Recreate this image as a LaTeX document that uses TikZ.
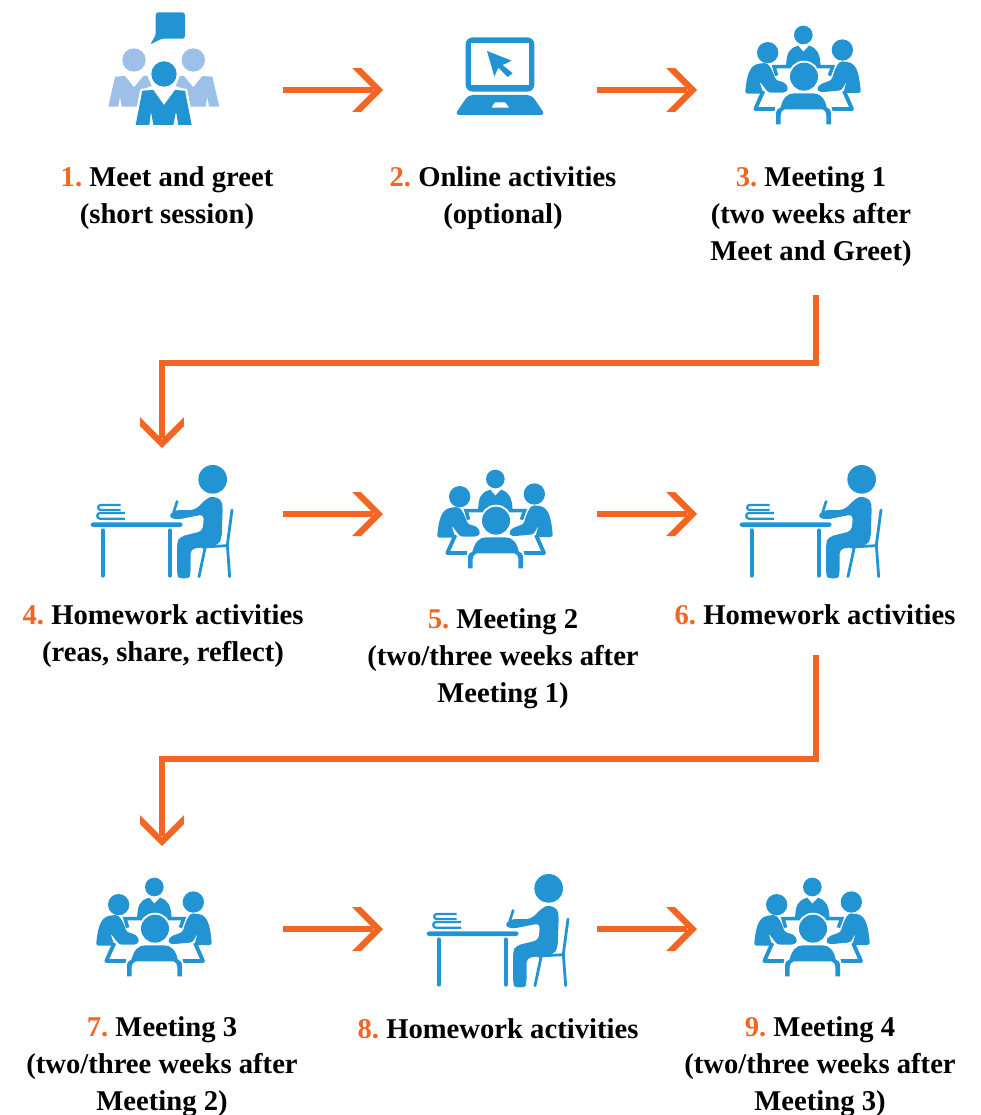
\documentclass[tikz,border=0pt]{standalone}
\usepackage{fontspec}
\setmainfont{Liberation Serif}
\definecolor{iconblue}{HTML}{2394D3}
\definecolor{iconlight}{HTML}{9DC0E8}
\definecolor{floworange}{HTML}{F26522}
\pgfdeclarearrow{
  name=Chevron,
  setup code={\pgfarrowssettipend{0pt}\pgfarrowssetlineend{-0.2cm}\pgfarrowssetbackend{-0.62cm}\pgfarrowssetvisualbackend{-0.18cm}},
  drawing code={
    \pgfpathmoveto{\pgfpoint{0cm}{0cm}}
    \pgfpathlineto{\pgfpoint{-0.44cm}{0.44cm}}
    \pgfpathlineto{\pgfpoint{-0.62cm}{0.44cm}}
    \pgfpathlineto{\pgfpoint{-0.18cm}{0cm}}
    \pgfpathlineto{\pgfpoint{-0.62cm}{-0.44cm}}
    \pgfpathlineto{\pgfpoint{-0.44cm}{-0.44cm}}
    \pgfpathclose
    \pgfsetfillcolor{floworange}
    \pgfusepathqfill
  }
}
\tikzset{
  flow/.style={draw=floworange,line width=0.12cm,-Chevron},
  iconslot/.style={minimum width=#1*0.02cm,minimum height=2.76cm,inner sep=0pt,outer sep=0pt},
  steplabel/.style={font=\fontsize{16.3pt}{21pt}\selectfont\bfseries\frenchspacing,align=center,anchor=north,inner sep=0pt},
  halo/.style={fill=iconblue,preaction={draw=white,line width=2.2pt}},
  greeticon/.pic={
    \begin{scope}[scale=1/3]
    \fill[iconblue,rounded corners=1.5pt] (197,37) -- (285,37) -- (285,116) -- (215,116) -- (180,134) -- (197,106) -- cycle;
    \fill[iconlight] (132,180) circle (35) (310,180) circle (35);
    \fill[iconlight] (75,230) -- (105,228) -- (132,262) -- (160,228) -- (172,228) -- (185,258) -- (150,270) -- (140,320) -- (95,320) -- (90,290) -- (85,320) -- (55,320) -- cycle;
    \fill[iconlight] (367,230) -- (337,228) -- (310,262) -- (282,228) -- (270,228) -- (257,258) -- (292,270) -- (302,320) -- (347,320) -- (352,290) -- (357,320) -- (388,320) -- cycle;
    \path[halo] (157,272) -- (190,270) -- (222,315) -- (255,270) -- (285,272) -- (305,375) -- (265,375) -- (258,335) -- (250,375) -- (190,375) -- (183,335) -- (178,375) -- (137,375) -- cycle;
    \path[halo] (222,222) circle (38);
    \end{scope}
  },
  laptopicon/.pic={
    \begin{scope}[scale=1/3]
    \fill[iconblue,rounded corners=4pt] (77,52) rectangle (283,215);
    \fill[white] (94,70) rectangle (266,196);
    \fill[iconblue] (141,93) -- (215,122) -- (188,135) -- (218,160) -- (203,171) -- (175,143) -- (163,170) -- cycle;
    \fill[iconblue,rounded corners=2.5pt] (85,225) -- (275,225) -- (316,285) -- (44,285) -- cycle;
    \fill[white] (165,247) -- (195,247) -- (207,263) -- (155,263) -- cycle;
    \end{scope}
  },
  meetingicon/.pic={
    \begin{scope}[scale=1/3]
    \fill[iconblue] (220,60) circle (28) (113,113) circle (32) (337,105) circle (32);
    \fill[iconblue] (168,155) .. controls (170,115) and (175,100) .. (205,92) -- (220,110) -- (237,92) .. controls (262,100) and (270,115) .. (272,155) -- cycle;
    \draw[iconblue,line width=2pt] (140,182) -- (132,155) -- (308,155) -- (298,182);
    \draw[iconblue,line width=2.2pt,line join=round] (100,228) -- (76,282) -- (135,282) (342,228) -- (366,282) -- (305,282);
    \fill[iconblue,rounded corners=1.5pt] (45,236) .. controls (50,190) and (55,150) .. (95,145) .. controls (115,143) and (125,160) .. (137,195) -- (165,203) -- (176,222) -- (165,233) -- (115,233) -- (88,198) -- (100,236) -- cycle;
    \fill[iconblue,rounded corners=1.5pt] (393,234) .. controls (388,190) and (385,145) .. (345,140) .. controls (325,138) and (315,160) .. (305,195) -- (270,208) -- (260,222) -- (270,232) -- (335,226) -- (350,198) -- (340,234) -- cycle;
    \path[halo] (222,185) circle (42);
    \path[fill=iconblue,preaction={draw=white,line width=2.2pt}] (138,328) -- (138,296) .. controls (138,285) and (145,280) .. (152,277) .. controls (158,250) and (172,235) .. (192,235) -- (250,235) .. controls (270,235) and (285,250) .. (290,277) .. controls (298,280) and (303,285) .. (303,296) -- (303,328) -- (289,328) -- (289,300) .. controls (289,292) and (285,285) .. (278,283) -- (164,283) .. controls (157,285) and (152,292) .. (152,300) -- (152,328) -- cycle;
    \end{scope}
  },
  deskicon/.pic={
    \begin{scope}[scale=1/3]
    \fill[iconblue] (398,73) circle (43);
    \fill[iconblue,rounded corners=1.5pt] (32,202) rectangle (308,216);
    \draw[iconblue,line width=2.2pt,line cap=round] (68,226) -- (68,362) (270,226) -- (270,362);
    \draw[iconblue,line width=1.3pt] (122,150) -- (62,150) .. controls (52,150) and (52,165) .. (62,165) -- (122,165);
    \draw[iconblue,line width=1.3pt] (135,174) -- (60,174) .. controls (49,174) and (49,191) .. (60,191) -- (135,191);
    \draw[iconblue,line width=1.5pt] (292,137) -- (281,172);
    \fill[iconblue,rounded corners=2.5pt] (378,132) .. controls (400,122) and (425,130) .. (428,160) -- (425,250) -- (415,270) -- (332,282) -- (332,352) .. controls (328,372) and (295,372) .. (291,352) -- (291,262) -- (300,245) -- (368,228) -- (372,178) -- (285,195) -- (264,183) -- (285,165) -- (345,165) -- cycle;
    \draw[iconblue,line width=1.6pt,line cap=round] (456,165) -- (442,270) -- (449,365) (375,280) -- (357,365) (365,276) -- (442,272);
    \end{scope}
  }
}
\begin{document}
\begin{tikzpicture}[x=0.02cm,y=-0.02cm]
\useasboundingbox (0,0) rectangle (980,1115);
\pic at (90,0) {greeticon};
\pic at (440,20) {laptopicon};
\pic at (730,15) {meetingicon};
\pic at (80,455) {deskicon};
\pic at (422,459) {meetingicon};
\pic at (729,455) {deskicon};
\pic at (81,867) {meetingicon};
\pic at (416,864) {deskicon};
\pic at (739,867) {meetingicon};

\node[iconslot=283] (icon1) at (141.5,90) {};
\node[iconslot=214] (icon2) at (490,90) {};
\node[iconslot=283] (icon3) at (838.5,90) {};
\node[iconslot=283] (icon4) at (141.5,514) {};
\node[iconslot=214] (icon5) at (490,514) {};
\node[iconslot=283] (icon6) at (838.5,514) {};
\node[iconslot=283] (icon7) at (141.5,929) {};
\node[iconslot=214] (icon8) at (490,929) {};
\node[iconslot=283] (icon9) at (838.5,929) {};

\draw[flow] (icon1) -- (icon2);
\draw[flow] (icon2) -- (icon3);
\draw[flow] (icon4) -- (icon5);
\draw[flow] (icon5) -- (icon6);
\draw[flow] (icon7) -- (icon8);
\draw[flow] (icon8) -- (icon9);

\coordinate (leave3) at (816,295);
\coordinate (bend3) at (816,363);
\coordinate (enter4) at (162,448);
\coordinate (leave6) at (816,655);
\coordinate (bend6) at (816,759);
\coordinate (enter7) at (162,846);
\draw[flow] (leave3) -- (bend3) -| (enter4);
\draw[flow] (leave6) -- (bend6) -| (enter7);

\node[steplabel] (label1) at (167,166) {\textcolor{floworange}{1.} Meet and greet\\(short session)};
\node[steplabel] (label2) at (503,166) {\textcolor{floworange}{2.} Online activities\\(optional)};
\node[steplabel] (label3) at (811,166) {\textcolor{floworange}{3.} Meeting 1\\(two weeks after\\Meet and Greet)};
\node[steplabel] (label4) at (163,604) {\textcolor{floworange}{4.} Homework activities\\(reas, share, reflect)};
\node[steplabel] (label5) at (503,608) {\textcolor{floworange}{5.} Meeting 2\\(two/three weeks after\\Meeting 1)};
\node[steplabel] (label6) at (815,604) {\textcolor{floworange}{6.} Homework activities};
\node[steplabel] (label7) at (162,1016) {\textcolor{floworange}{7.} Meeting 3\\(two/three weeks after\\Meeting 2)};
\node[steplabel] (label8) at (498,1018) {\textcolor{floworange}{8.} Homework activities};
\node[steplabel] (label9) at (820,1016) {\textcolor{floworange}{9.} Meeting 4\\(two/three weeks after\\Meeting 3)};
\end{tikzpicture}
\end{document}
